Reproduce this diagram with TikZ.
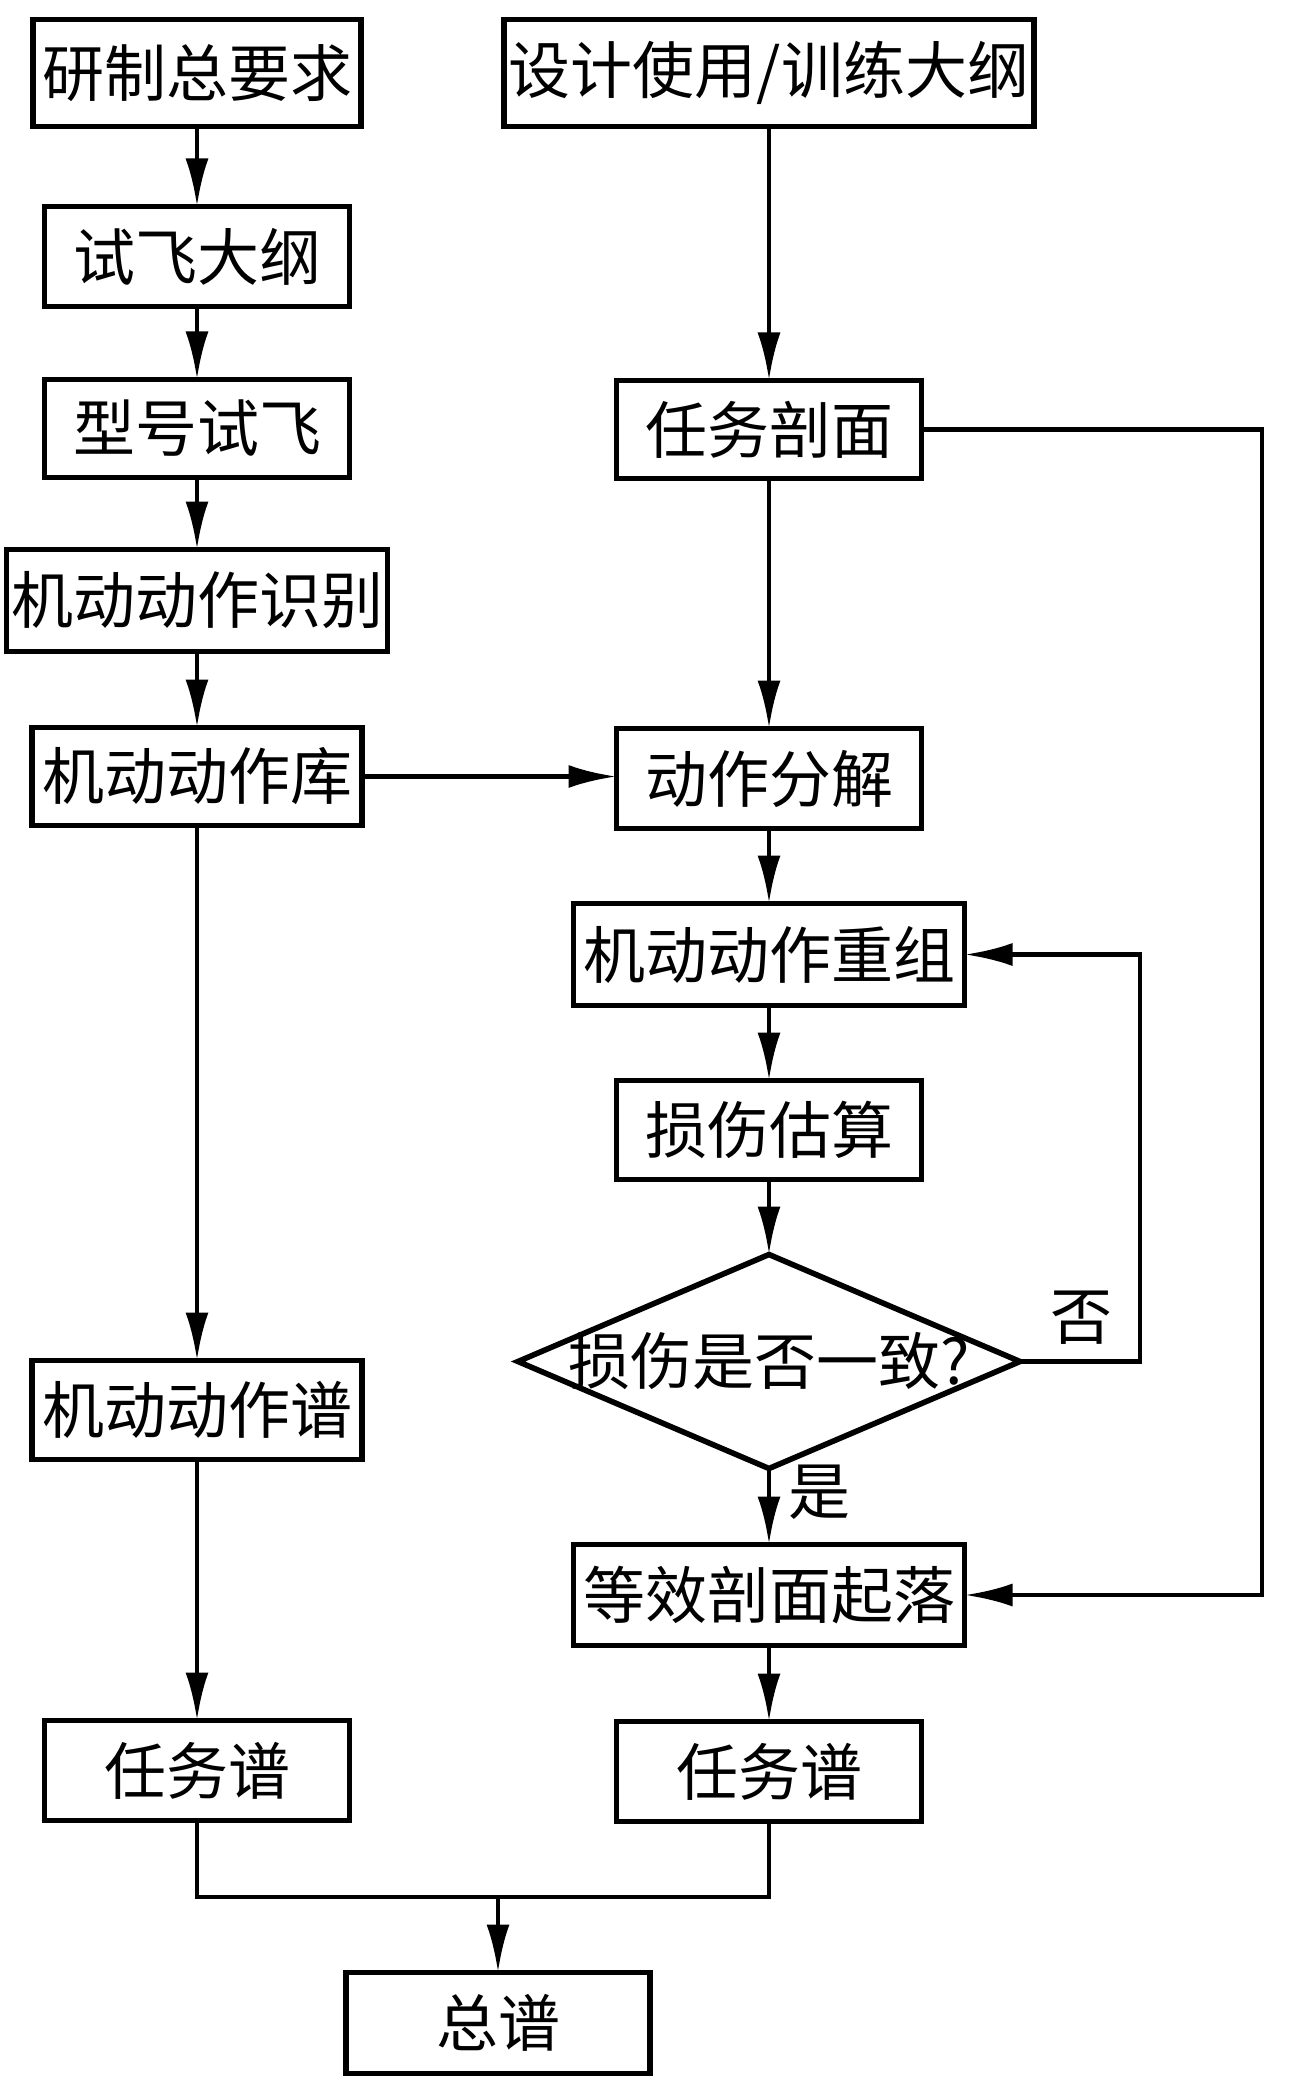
\documentclass[tikz,border=0pt]{standalone}
\usepackage{fontspec}
\setmainfont{Noto Sans CJK SC}
\usetikzlibrary{shapes.geometric, arrows.meta, positioning}

\begin{document}
\begin{tikzpicture}[
            x=0.5pt, y=-0.5pt,
            node distance=37.5pt,
            every node/.style={font=\fontsize{31}{36}\selectfont},
            proc/.style={rectangle, draw, line width=2.8pt, minimum width=152.5pt, minimum height=50pt, inner sep=0pt, outer sep=0pt},
            wide/.style={proc, minimum width=195.5pt, minimum height=51pt},
            check/.style={diamond, draw, line width=2.8pt, aspect=2.35, minimum width=251pt, minimum height=107pt, inner sep=0pt, outer sep=0pt},
            flow/.style={-{Latex[length=24pt,width=11.5pt]}, line width=2.4pt},
            link/.style={line width=2.4pt}
        ]
        \useasboundingbox (0,0) rectangle (1299,2097);

        % Left column
        \node[proc, minimum width=164pt, minimum height=53.5pt] (req) at (197,73) {研制总要求};
        \node[proc, below=40pt of req] (outline) {试飞大纲};
        \node[proc, below=36.5pt of outline, minimum height=49pt] (trial) {型号试飞};
        \node[proc, below=36pt of trial, minimum width=190.5pt, minimum height=51pt] (ident) {机动动作识别};
        \node[proc, below=38pt of ident, minimum width=165pt, minimum height=49pt] (lib) {机动动作库};
        \node[proc, below=267.5pt of lib, minimum width=165pt, minimum height=49.5pt] (spec) {机动动作谱};
        \node[proc, below=130.5pt of spec] (taskL) {任务谱};

        % Right column
        \node[proc, minimum width=265pt, minimum height=53.5pt] (usage) at (769,73) {设计使用/训练大纲};
        \node[proc, below=127pt of usage, minimum height=49pt] (profile) {任务剖面};
        \node[proc, below=125pt of profile] (decomp) {动作分解};
        \node[wide, below=of decomp] (recomb) {机动动作重组};
        \node[proc, below=of recomb, minimum height=49.5pt] (damage) {损伤估算};
        \node[check, below=of damage] (match) {\makebox[0pt]{损伤是否一致?}};
        \node[wide, below=38pt of match, minimum height=50.5pt] (equiv) {等效剖面起落};
        \node[proc, below=38pt of equiv] (taskR) {任务谱};

        % Total
        \node[proc, minimum width=152pt, minimum height=50.5pt] (total) at (498,2023) {总谱};

        % Helper points
        \coordinate (outer) at (1262,0);
        \coordinate (inner) at (1140,0);
        \coordinate (merge) at (498,1897);

        % Connections
        \draw[flow] (req) -- (outline);
        \draw[flow] (outline) -- (trial);
        \draw[flow] (trial) -- (ident);
        \draw[flow] (ident) -- (lib);
        \draw[flow] (lib) -- (spec);
        \draw[flow] (spec) -- (taskL);
        \draw[flow] (lib.east) -- (lib.east -| decomp.west);

        \draw[flow] (usage) -- (profile);
        \draw[flow] (profile) -- (decomp);
        \draw[flow] (decomp) -- (recomb);
        \draw[flow] (recomb) -- (damage);
        \draw[flow] (damage) -- (match);
        \draw[flow] (match) -- (equiv);
        \draw[flow] (equiv) -- (taskR);
        \draw[flow] (profile.east) -- (profile.east -| outer) |- (equiv.east);
        \draw[flow] (match.east) -- (match.east -| inner) |- (recomb.east);

        \draw[link] (taskL.south) |- (merge) -| (taskR.south);
        \draw[flow] (merge) -- (total);

        % Labels
        \node (no) at (1081,1318) {否};
        \node (yes) at (819,1492) {是};

    \end{tikzpicture}
\end{document}
